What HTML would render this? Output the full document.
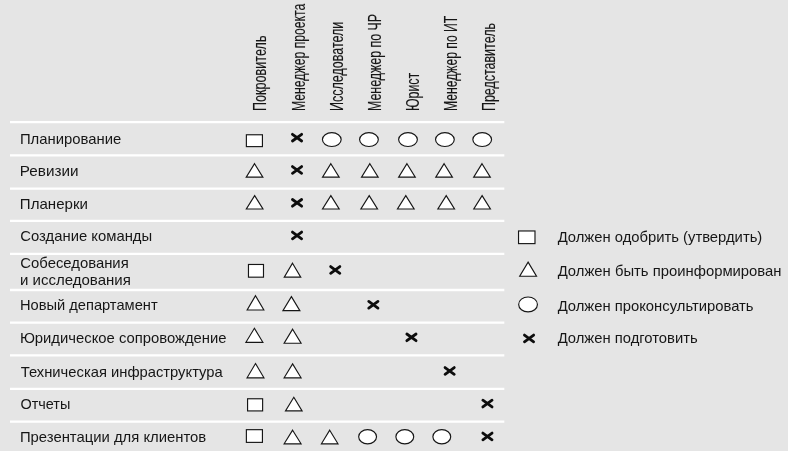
<!DOCTYPE html>
<html lang="ru"><head><meta charset="utf-8"><title>Матрица ответственности</title>
<style>
html,body{margin:0;padding:0;background:#e5e5e5;}
body{width:788px;height:451px;overflow:hidden;}
svg{display:block;}
text{font-family:"Liberation Sans",sans-serif;fill:#161616;}
.lbl{font-size:15px;}
.hdr{font-size:17.7px;stroke:#161616;stroke-width:0.12px;}
.sh{fill:#fff;stroke:#161616;stroke-width:1.15;stroke-linejoin:miter;}
.xm{fill:none;stroke:#0d0d0d;stroke-width:2.8;stroke-linecap:round;}
.ln{stroke:#fff;stroke-width:2.3;}
</style></head><body>
<svg width="788" height="451" viewBox="0 0 788 451">
<rect width="788" height="451" fill="#e5e5e5"/>
<line x1="10" y1="122.10" x2="504.3" y2="122.10" class="ln"/>
<line x1="10" y1="155.35" x2="504.3" y2="155.35" class="ln"/>
<line x1="10" y1="188.60" x2="504.3" y2="188.60" class="ln"/>
<line x1="10" y1="220.90" x2="504.3" y2="220.90" class="ln"/>
<line x1="10" y1="253.80" x2="504.3" y2="253.80" class="ln"/>
<line x1="10" y1="290.00" x2="504.3" y2="290.00" class="ln"/>
<line x1="10" y1="322.60" x2="504.3" y2="322.60" class="ln"/>
<line x1="10" y1="355.30" x2="504.3" y2="355.30" class="ln"/>
<line x1="10" y1="388.80" x2="504.3" y2="388.80" class="ln"/>
<line x1="10" y1="421.70" x2="504.3" y2="421.70" class="ln"/>
<text class="hdr" transform="translate(266.30 110.0) rotate(-90)" x="-1.01" textLength="75.53" lengthAdjust="spacingAndGlyphs">Покровитель</text>
<text class="hdr" transform="translate(304.70 110.0) rotate(-90)" x="-1.00" textLength="107.35" lengthAdjust="spacingAndGlyphs">Менеджер проекта</text>
<text class="hdr" transform="translate(342.90 110.0) rotate(-90)" x="-1.01" textLength="89.32" lengthAdjust="spacingAndGlyphs">Исследователи</text>
<text class="hdr" transform="translate(380.55 110.0) rotate(-90)" x="-1.01" textLength="97.07" lengthAdjust="spacingAndGlyphs">Менеджер по ЧР</text>
<text class="hdr" transform="translate(418.80 110.0) rotate(-90)" x="-1.02" textLength="38.23" lengthAdjust="spacingAndGlyphs">Юрист</text>
<text class="hdr" transform="translate(457.00 110.0) rotate(-90)" x="-1.00" textLength="95.27" lengthAdjust="spacingAndGlyphs">Менеджер по ИТ</text>
<text class="hdr" transform="translate(494.70 110.0) rotate(-90)" x="-1.00" textLength="87.90" lengthAdjust="spacingAndGlyphs">Представитель</text>
<text class="lbl" x="19.90" y="143.70" textLength="101.36" lengthAdjust="spacingAndGlyphs">Планирование</text>
<text class="lbl" x="19.86" y="176.30" textLength="58.63" lengthAdjust="spacingAndGlyphs">Ревизии</text>
<text class="lbl" x="19.88" y="209.30" textLength="68.07" lengthAdjust="spacingAndGlyphs">Планерки</text>
<text class="lbl" x="20.35" y="241.20" textLength="131.78" lengthAdjust="spacingAndGlyphs">Создание команды</text>
<text class="lbl" x="20.35" y="268.10" textLength="108.37" lengthAdjust="spacingAndGlyphs">Собеседования</text>
<text class="lbl" x="20.06" y="285.30" textLength="110.77" lengthAdjust="spacingAndGlyphs">и исследования</text>
<text class="lbl" x="19.90" y="310.10" textLength="137.75" lengthAdjust="spacingAndGlyphs">Новый департамент</text>
<text class="lbl" x="19.88" y="343.30" textLength="206.67" lengthAdjust="spacingAndGlyphs">Юридическое сопровождение</text>
<text class="lbl" x="20.77" y="376.70" textLength="201.93" lengthAdjust="spacingAndGlyphs">Техническая инфраструктура</text>
<text class="lbl" x="20.42" y="409.35" textLength="49.87" lengthAdjust="spacingAndGlyphs">Отчеты</text>
<text class="lbl" x="19.90" y="442.20" textLength="186.34" lengthAdjust="spacingAndGlyphs">Презентации для клиентов</text>
<text class="lbl" x="557.64" y="241.60" textLength="204.67" lengthAdjust="spacingAndGlyphs">Должен одобрить (утвердить)</text>
<text class="lbl" x="557.64" y="275.90" textLength="223.89" lengthAdjust="spacingAndGlyphs">Должен быть проинформирован</text>
<text class="lbl" x="557.64" y="310.65" textLength="195.91" lengthAdjust="spacingAndGlyphs">Должен проконсультировать</text>
<text class="lbl" x="557.64" y="343.10" textLength="140.06" lengthAdjust="spacingAndGlyphs">Должен подготовить</text>
<rect x="246.38" y="134.77" width="16.05" height="11.85" class="sh"/>
<rect x="248.47" y="264.47" width="15.02" height="12.71" class="sh"/>
<rect x="247.57" y="398.77" width="15.05" height="12.15" class="sh"/>
<rect x="246.38" y="429.68" width="16.05" height="12.70" class="sh"/>
<rect x="518.54" y="230.97" width="16.45" height="12.65" class="sh"/>
<path d="M254.55 163.69 L262.87 177.12 L246.23 177.12 Z" class="sh"/>
<path d="M330.85 163.69 L339.17 177.12 L322.53 177.12 Z" class="sh"/>
<path d="M369.85 163.69 L378.17 177.12 L361.53 177.12 Z" class="sh"/>
<path d="M406.95 163.69 L415.27 177.12 L398.63 177.12 Z" class="sh"/>
<path d="M444.10 163.69 L452.42 177.12 L435.78 177.12 Z" class="sh"/>
<path d="M482.00 163.69 L490.32 177.12 L473.68 177.12 Z" class="sh"/>
<path d="M254.65 195.59 L262.97 209.03 L246.33 209.03 Z" class="sh"/>
<path d="M330.85 195.59 L339.17 209.03 L322.53 209.03 Z" class="sh"/>
<path d="M369.20 195.59 L377.52 209.03 L360.88 209.03 Z" class="sh"/>
<path d="M405.80 195.59 L414.12 209.03 L397.48 209.03 Z" class="sh"/>
<path d="M446.20 195.59 L454.52 209.03 L437.88 209.03 Z" class="sh"/>
<path d="M482.10 195.59 L490.42 209.03 L473.78 209.03 Z" class="sh"/>
<path d="M292.50 263.23 L300.74 277.19 L284.26 277.19 Z" class="sh"/>
<path d="M255.50 295.74 L263.85 310.03 L247.15 310.03 Z" class="sh"/>
<path d="M291.40 296.61 L299.88 310.62 L282.92 310.62 Z" class="sh"/>
<path d="M254.40 328.31 L262.88 342.32 L245.92 342.32 Z" class="sh"/>
<path d="M292.60 329.21 L301.08 343.23 L284.12 343.23 Z" class="sh"/>
<path d="M255.50 363.53 L263.94 377.82 L247.06 377.82 Z" class="sh"/>
<path d="M292.60 363.91 L301.08 377.82 L284.12 377.82 Z" class="sh"/>
<path d="M293.80 397.30 L302.10 410.93 L285.50 410.93 Z" class="sh"/>
<path d="M292.60 430.19 L301.07 443.82 L284.13 443.82 Z" class="sh"/>
<path d="M329.70 430.21 L337.98 443.82 L321.42 443.82 Z" class="sh"/>
<path d="M528.10 262.12 L536.51 276.23 L519.69 276.23 Z" class="sh"/>
<ellipse cx="331.80" cy="139.60" rx="9.38" ry="6.92" class="sh"/>
<ellipse cx="368.95" cy="139.60" rx="9.38" ry="6.92" class="sh"/>
<ellipse cx="408.00" cy="139.60" rx="9.38" ry="6.92" class="sh"/>
<ellipse cx="444.90" cy="139.60" rx="9.38" ry="6.92" class="sh"/>
<ellipse cx="482.20" cy="139.60" rx="9.38" ry="6.92" class="sh"/>
<ellipse cx="367.60" cy="436.75" rx="8.93" ry="7.08" class="sh"/>
<ellipse cx="404.80" cy="436.75" rx="8.93" ry="7.08" class="sh"/>
<ellipse cx="441.80" cy="436.75" rx="8.93" ry="7.08" class="sh"/>
<ellipse cx="528.05" cy="304.45" rx="9.38" ry="7.48" class="sh"/>
<path d="M292.45 134.30 L301.65 141.00 M301.65 134.30 L292.45 141.00" class="xm"/>
<path d="M292.45 166.60 L301.65 173.30 M301.65 166.60 L292.45 173.30" class="xm"/>
<path d="M292.45 199.50 L301.65 206.20 M301.65 199.50 L292.45 206.20" class="xm"/>
<path d="M292.45 232.10 L301.65 238.80 M301.65 232.10 L292.45 238.80" class="xm"/>
<path d="M330.65 266.60 L339.85 273.30 M339.85 266.60 L330.65 273.30" class="xm"/>
<path d="M368.75 301.40 L377.95 308.10 M377.95 301.40 L368.75 308.10" class="xm"/>
<path d="M406.85 334.00 L416.05 340.70 M416.05 334.00 L406.85 340.70" class="xm"/>
<path d="M445.05 367.60 L454.25 374.30 M454.25 367.60 L445.05 374.30" class="xm"/>
<path d="M482.85 400.20 L492.05 406.90 M492.05 400.20 L482.85 406.90" class="xm"/>
<path d="M482.85 433.10 L492.05 439.80 M492.05 433.10 L482.85 439.80" class="xm"/>
<path d="M524.45 335.10 L533.65 341.80 M533.65 335.10 L524.45 341.80" class="xm"/>
</svg></body></html>
